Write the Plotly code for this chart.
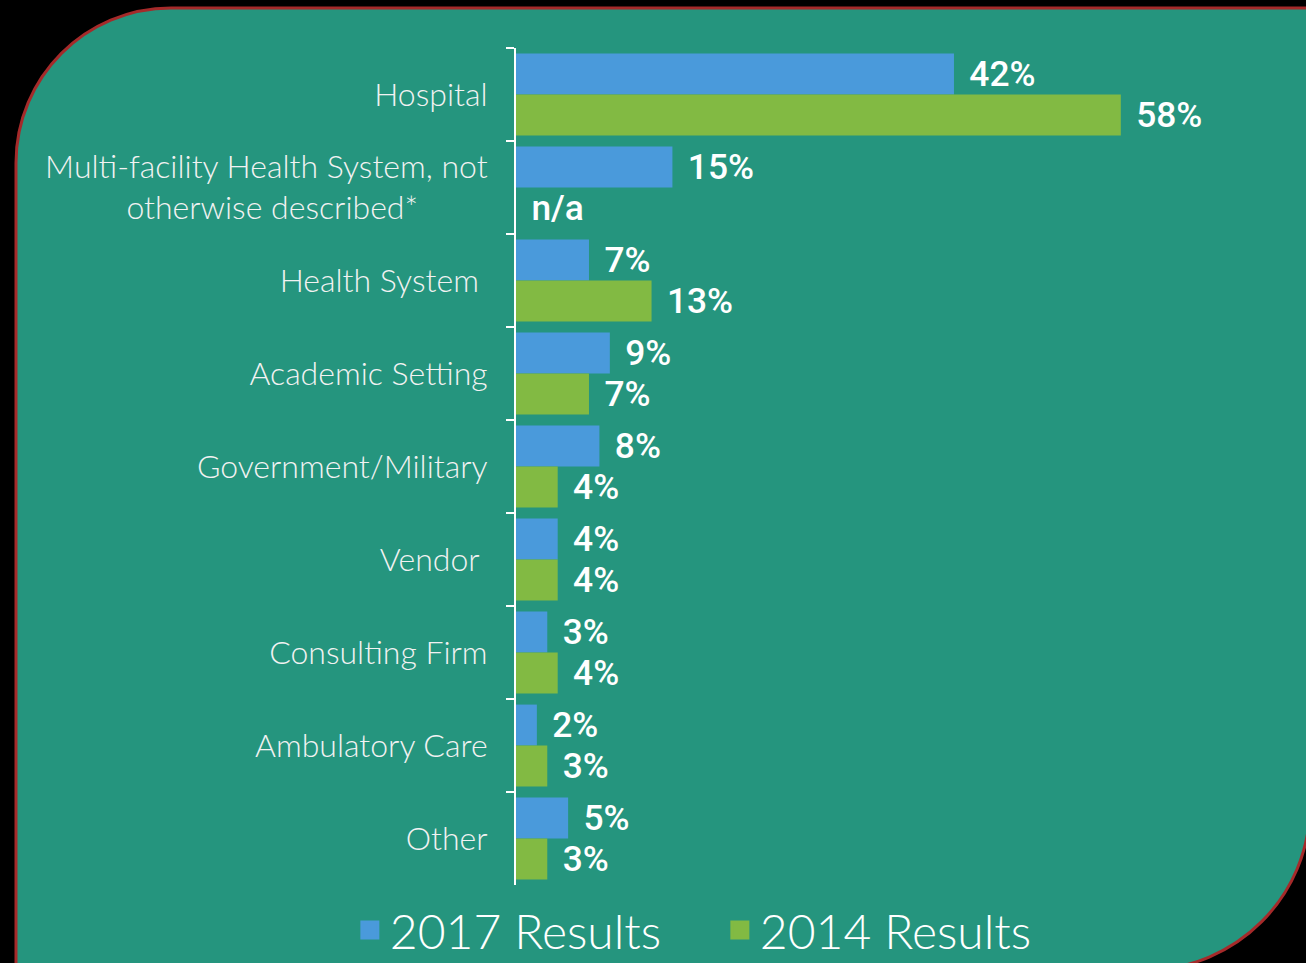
import plotly.graph_objects as go

categories = ["Hospital",
              "Multi-facility Health System, not<br>otherwise described*" + "\u00a0" * 8,
              "Health System\u00a0", "Academic Setting", "Government/Military",
              "Vendor\u00a0", "Consulting Firm", "Ambulatory Care", "Other"]
results_2017 = [42, 15, 7, 9, 8, 4, 3, 2, 5]
results_2014 = [58, 0, 13, 7, 4, 4, 4, 3, 3]
labels_2017 = ["42%", "15%", "7%", "9%", "8%", "4%", "3%", "2%", "5%"]
labels_2014 = ["58%", "n/a", "13%", "7%", "4%", "4%", "4%", "3%", "3%"]

W, H = 1306, 963
ML, MR, MT, MB = 516, 10, 48, 78
PW, PH = W - ML - MR, H - MT - MB

BLUE = "#4A9ADB"
GREEN = "#82BA43"
TEAL = "#25957E"

def px(x, y):
    return "%.5f,%.5f" % ((x - ML) / PW, (H - MB - y) / PH)

k = 0.5523
r1 = 155
cx1, cy1 = 16 + r1, 8 + r1
r2 = 165
cx2, cy2 = 1145, 805
path = ("M" + px(16, 975) + " L" + px(16, cy1) +
        " C" + px(16, cy1 - k * r1) + " " + px(cx1 - k * r1, 8) + " " + px(cx1, 8) +
        " L" + px(1320, 8) + " L" + px(1320, cy2) +
        " L" + px(cx2 + r2, cy2) +
        " C" + px(cx2 + r2, cy2 + k * r2) + " " + px(cx2 + k * r2, cy2 + r2) + " " + px(cx2, cy2 + r2) +
        " L" + px(16, cy2 + r2) + " Z")

label_font = dict(family="Roboto", size=38, color="white", weight=500)
pad = "\u00a0\u200a"

fig = go.Figure()
fig.add_trace(go.Bar(y=categories, x=results_2017, orientation="h", name="2017 Results",
                     marker=dict(color=BLUE, line=dict(width=0)),
                     text=[pad + t for t in labels_2017], textposition="outside",
                     textfont=label_font, cliponaxis=False, showlegend=False))
fig.add_trace(go.Bar(y=categories, x=results_2014, orientation="h", name="2014 Results",
                     marker=dict(color=GREEN, line=dict(width=0)),
                     text=[pad + t for t in labels_2014], textposition="outside",
                     textfont=label_font, cliponaxis=False, showlegend=False))
# legend entries
fig.add_trace(go.Scatter(x=[None], y=[None], mode="markers", name="2017 Results",
                         marker=dict(symbol="square", size=22, color=BLUE,
                                     line=dict(color=BLUE, width=3))))
fig.add_trace(go.Scatter(x=[None], y=[None], mode="markers", name="2014 Results",
                         marker=dict(symbol="square", size=22, color=GREEN,
                                     line=dict(color=GREEN, width=3))))

fig.update_layout(
    width=W, height=H,
    margin=dict(l=ML, r=MR, t=MT, b=MB, autoexpand=False),
    paper_bgcolor="black",
    plot_bgcolor="rgba(0,0,0,0)",
    barmode="group", bargap=0.12, bargroupgap=0,
    shapes=[dict(type="path", xref="paper", yref="paper", path=path,
                 fillcolor=TEAL, line=dict(color="#A52A2A", width=3), layer="below")],
    xaxis=dict(range=[0, 74.8], visible=False, fixedrange=True),
    yaxis=dict(type="category", autorange="reversed", tickson="boundaries",
               ticks="outside", ticklen=8, tickwidth=2, tickcolor="white",
               showline=True, linecolor="white", linewidth=2, showgrid=False,
               tickfont=dict(family="Lato", size=32, color="#F2F2F2", weight=300),
               ticklabelstandoff=20),
    legend=dict(orientation="h", x=-0.213, xanchor="left", y=-0.054, yanchor="middle",
                font=dict(family="Lato", size=48, color="white", weight=300),
                bgcolor="rgba(0,0,0,0)", itemsizing="trace", tracegroupgap=0,
                entrywidth=325, entrywidthmode="pixels"),
    showlegend=True,
)

fig.write_html("out.html", config={"displayModeBar": False},
               post_script="document.body.style.margin='0';document.body.style.background='black';")
